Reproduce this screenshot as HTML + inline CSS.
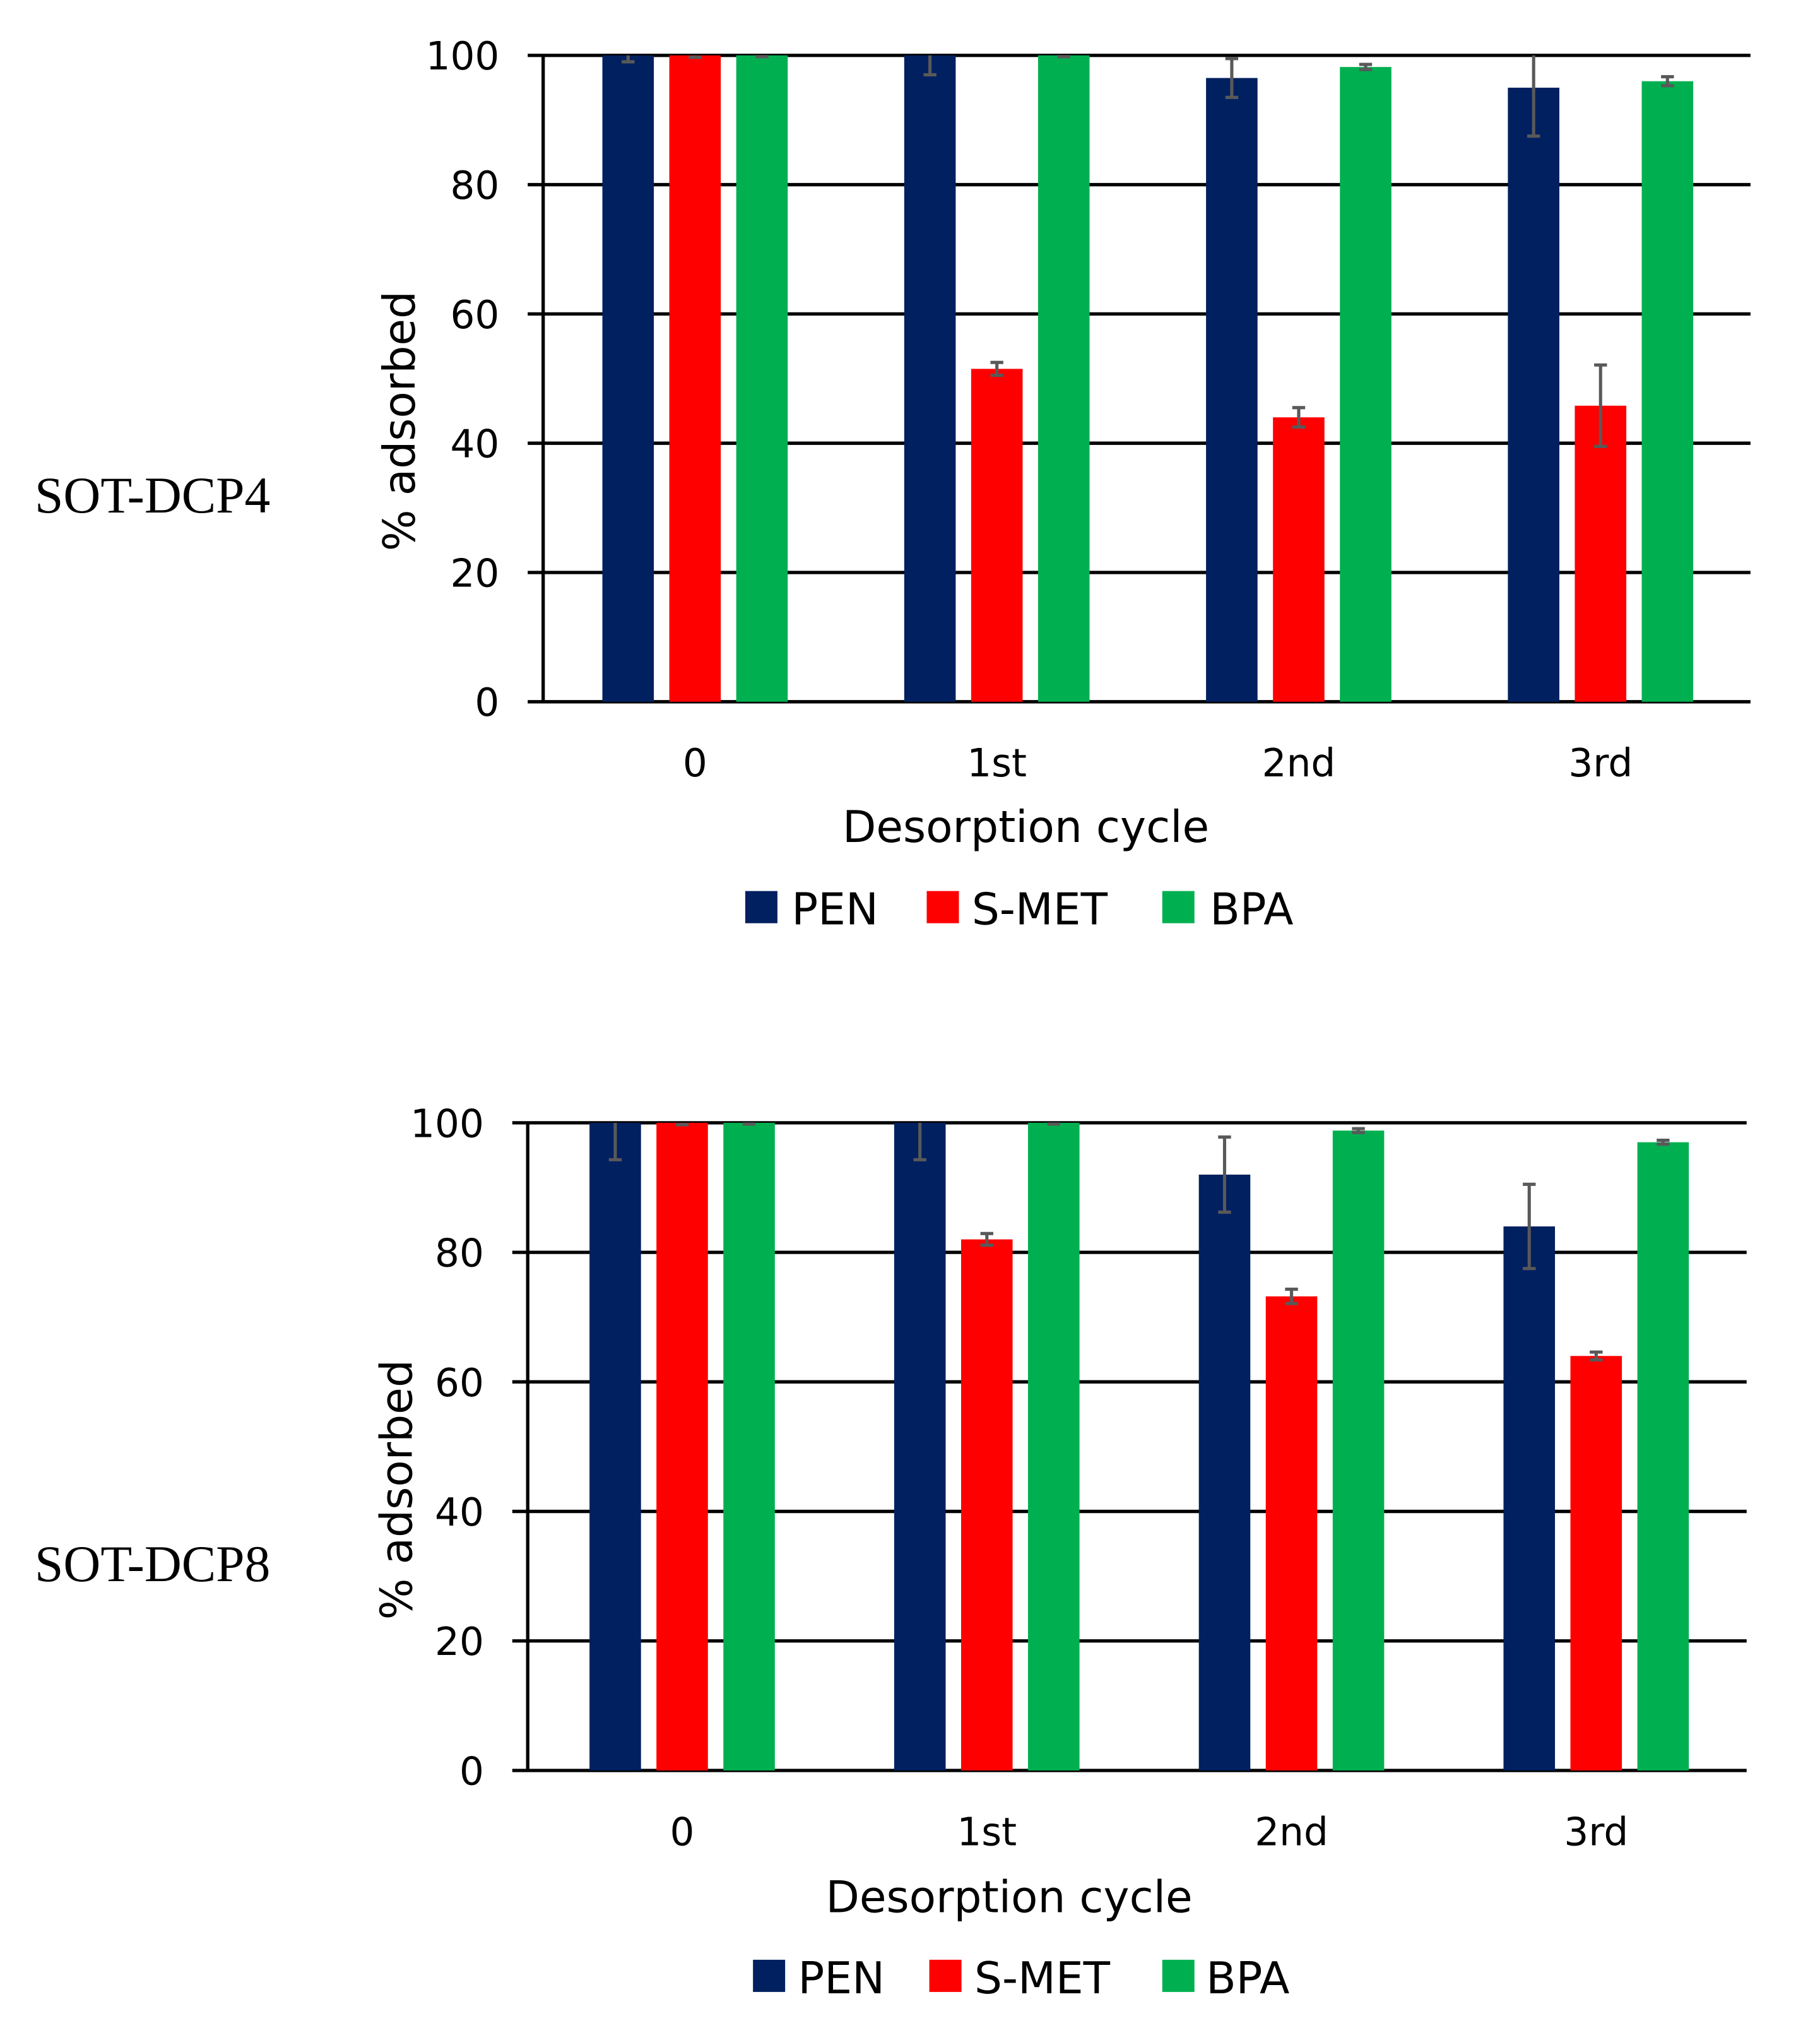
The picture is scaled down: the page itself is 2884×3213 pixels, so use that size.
<!DOCTYPE html>
<html><head><meta charset="utf-8"><style>
html,body{margin:0;padding:0;background:#fff;}
svg{display:block;}
text{font-family:"DejaVu Sans","Liberation Sans",sans-serif;fill:#000;}
.serif{font-family:"Liberation Serif",serif;}
</style></head><body>
<svg id="fig" width="2884" height="3213" viewBox="0 0 1414 1575" preserveAspectRatio="none" xmlns="http://www.w3.org/2000/svg">
<text class="serif" x="27" y="398" font-size="40">SOT-DCP4</text>
<text class="serif" x="27" y="1228" font-size="40">SOT-DCP8</text>
<g id="c1"></g>
<g id="c2"></g>
</svg>
<script>
const categories = ["0","1st","2nd","3rd"];
const seriesNames = ["PEN","S-MET","BPA"];
const seriesColors = ["#002060","#ff0000","#00b050"];
const yTicks = [0,20,40,60,80,100];
const c1PEN = [100,100,96.5,95];
const c1PENerr = [1,3,3,7.5];
const c1SMET = [100,51.5,44,45.8];
const c1SMETerr = [0.3,1,1.5,6.3];
const c1BPA = [100,100,98.2,96];
const c1BPAerr = [0.2,0.2,0.4,0.7];
const c2PEN = [100,100,92,84];
const c2PENerr = [5.7,5.7,5.8,6.5];
const c2SMET = [100,82,73.2,64];
const c2SMETerr = [0.3,0.9,1.1,0.6];
const c2BPA = [100,100,98.8,97];
const c2BPAerr = [0.2,0.2,0.3,0.3];

const NS="http://www.w3.org/2000/svg";
function mk(parent,tag,attrs,text){const e=document.createElementNS(NS,tag);for(const k in attrs)e.setAttribute(k,attrs[k]);if(text!==undefined)e.textContent=text;parent.appendChild(e);return e;}

function drawChart(g,cfg,values,errs){
  const y=v=>cfg.y0-(cfg.y0-cfg.y100)*v/100;
  const x=i=>cfg.cx0+cfg.step*i;
  yTicks.forEach(t=>{
    const l=mk(g,'line',{x1:cfg.left-12,x2:cfg.right,y1:y(t),y2:y(t),stroke:'#000','stroke-width':2.6});
    
    
    const tx=mk(g,'text',{x:cfg.left-34,y:y(t)+11,'font-size':30,'text-anchor':'end'},String(t));
    
    
  });
  const ax=mk(g,'line',{x1:cfg.left,x2:cfg.left,y1:cfg.y100,y2:cfg.y0,stroke:'#000','stroke-width':2.6});
  
  
  categories.forEach((c,i)=>{
    values.forEach((arr,s)=>{
      const bx=x(i)+(s-1)*52-20;
      const r=mk(g,'rect',{x:bx,y:y(arr[i]),width:40,height:y(0)-y(arr[i]),fill:seriesColors[s]});
      
      
      const e=errs[s][i], cx=bx+20;
      const top=Math.min(arr[i]+e,100);
      const eb=mk(g,'path',{d:`M${cx},${y(top)}V${y(arr[i]-e)}M${cx-5},${y(arr[i]-e)}h10`+(arr[i]+e<=100.01?`M${cx-5},${y(top)}h10`:''),stroke:'#595959','stroke-width':2.5,fill:'none'});
      
      
    });
    const t=mk(g,'text',{x:x(i),y:cfg.y0+58,'font-size':30,'text-anchor':'middle'},c);
    
    
  });
  const yt=mk(g,'text',{x:0,y:0,'font-size':34,'text-anchor':'middle',transform:`translate(${cfg.ytx},${cfg.yty}) rotate(-90)`},'% adsorbed');
  
  
  const xt=mk(g,'text',{x:cfg.xtx,y:cfg.xty,'font-size':34,'text-anchor':'middle'},'Desorption cycle');
  
  
  seriesNames.forEach((n,s)=>{
    const sq=mk(g,'rect',{x:cfg.legSq[s],y:cfg.legY-13,width:25,height:25,fill:seriesColors[s]});
    
    
    const lt=mk(g,'text',{x:cfg.legTx[s],y:cfg.legY+13,'font-size':34},n);
    
    
  });
}
drawChart(document.getElementById('c1'),{left:422,right:1360,y100:43,y0:545,cx0:540,step:234.5,ytx:322,yty:327,xtx:797,xty:654,legY:705,legSq:[579,720,903],legTx:[615,755,940]},[c1PEN,c1SMET,c1BPA],[c1PENerr,c1SMETerr,c1BPAerr]);
drawChart(document.getElementById('c2'),{left:410,right:1357,y100:872,y0:1375,cx0:530,step:236.7,ytx:320,yty:1157,xtx:784,xty:1485,legY:1535,legSq:[585,722,903],legTx:[620,757,937]},[c2PEN,c2SMET,c2BPA],[c2PENerr,c2SMETerr,c2BPAerr]);
</script>
</body></html>
